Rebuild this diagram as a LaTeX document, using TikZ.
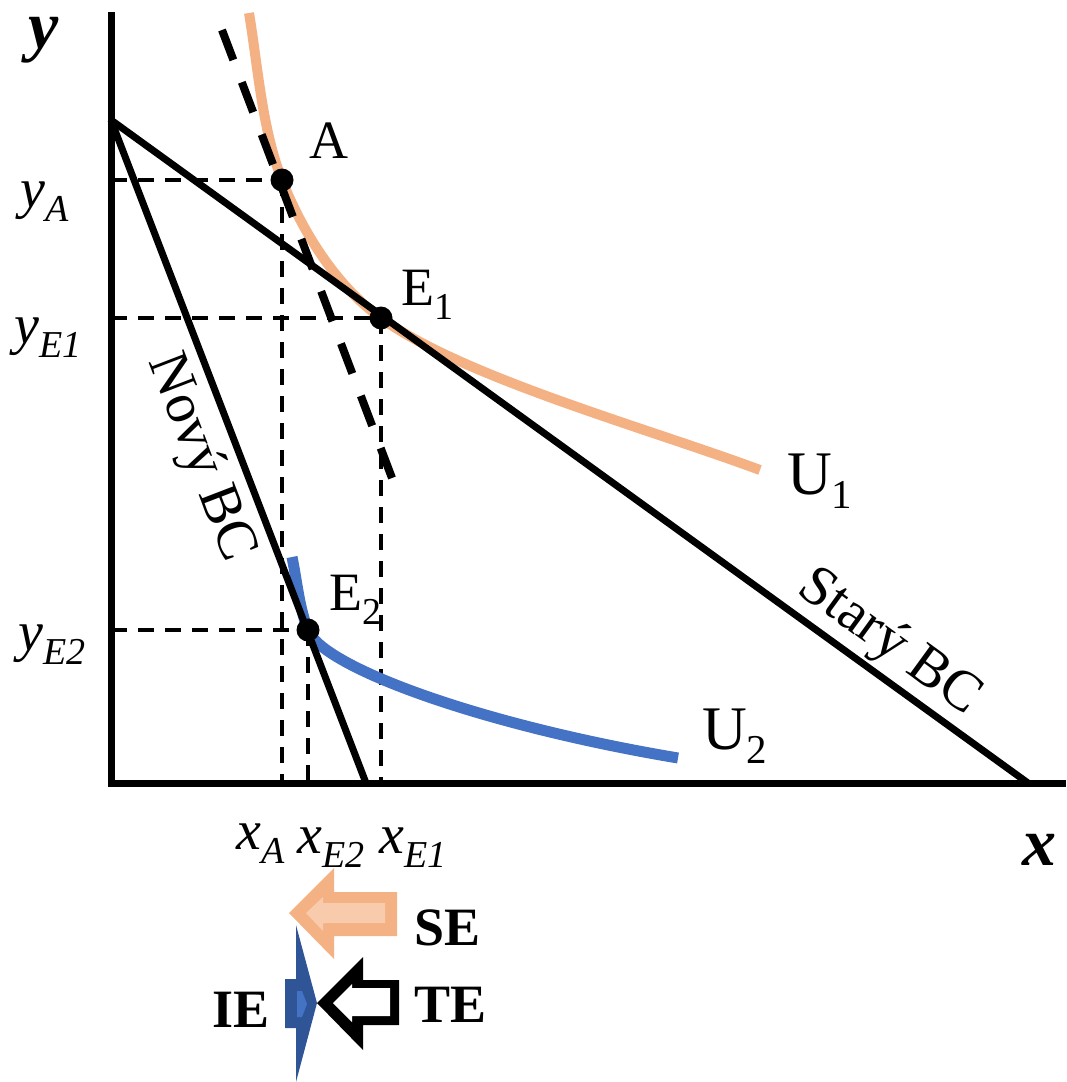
\documentclass[tikz,border=0pt]{standalone}
\usepackage{fontspec}
\setmainfont{Liberation Serif}
\definecolor{uorange}{HTML}{F4B183}
\definecolor{lorange}{HTML}{F8CBAD}
\definecolor{ublue}{HTML}{4472C4}
\definecolor{dblue}{HTML}{2F5597}
\newcommand\mysub[2][38]{\raisebox{-14pt}{\fontsize{#1}{#1}\selectfont #2}}
\begin{document}
\begin{tikzpicture}[x=1pt,y=-1pt,
  axisline/.style={line width=7pt, line join=miter},
  bcline/.style={line width=7pt},
  guide/.style={line width=3.5pt, dash pattern=on 16pt off 11pt},
  longdash/.style={line width=8pt, dash pattern=on 32pt off 23.9pt},
  lab/.style={inner sep=0pt, anchor=base west, font=\fontsize{54}{60}\selectfont},
  ulab/.style={inner sep=0pt, anchor=base west, font=\fontsize{62}{66}\selectfont},
  mlab/.style={inner sep=0pt, anchor=base west, font=\fontsize{56}{60}\selectfont\itshape},
  axlab/.style={inner sep=0pt, anchor=base west, text height=0.5em, font=\fontsize{68}{70}\selectfont\bfseries\itshape},
  bclab/.style={inner sep=0pt, font=\fontsize{57}{60}\selectfont},
  efflab/.style={inner sep=0pt, anchor=base west, font=\fontsize{54}{60}\selectfont\bfseries},
  dot/.style={fill=black}
]
\useasboundingbox (0,0) rectangle (1066,1082);

% key points
\coordinate (Ytop) at (111,12);
\coordinate (O) at (111,783);
\coordinate (Xend) at (1066,783);
\coordinate (Y0) at (111,120);
\coordinate (Xold) at (1028,783);
\coordinate (Xnew) at (366,783);
\coordinate (A) at (282,180);
\coordinate (E1) at (381,318);
\coordinate (E2) at (308,630);
\coordinate (D1) at (222,30);
\coordinate (D2) at (392,478);
\coordinate (U1s) at (249,13);
\coordinate (U1e) at (760,470);
\coordinate (U2s) at (292,557);
\coordinate (U2e) at (678,758);

% guide lines
\draw[guide] (O |- A) -- (A);
\draw[guide] (A) -- (A |- O);
\draw[guide] (O |- E1) -- (E1);
\draw[guide] (E1) -- (E1 |- O);
\draw[guide] (O |- E2) -- (E2);
\draw[guide] (E2) -- (E2 |- O);

% indifference curves
\draw[uorange, line width=10pt] (U1s) .. controls (258,67) and (262,129) .. (A)
  .. controls (302,231) and (336,286) .. (E1)
  .. controls (462,377) and (647,428) .. (U1e);
\draw[ublue, line width=11pt] (U2s) .. controls (297,581) and (299,607) .. (E2)
  .. controls (322,667) and (481,725) .. (U2e);

% axes
\draw[axisline] (Ytop) -- (O) -- (Xend);

% budget lines
\draw[bcline] (Y0) -- (Xold);
\draw[bcline] (Y0) -- (Xnew);

% compensated budget line (dashed)
\draw[longdash] (D1) -- (D2);

% points
\fill[dot] (A) circle[radius=11.5pt];
\fill[dot] (E1) circle[radius=11.5pt];
\fill[dot] (E2) circle[radius=11.5pt];

% point labels
\node[lab] (lA) at (309,158) {A};
\node[lab] (lE1) at (401,305) {E\mysub{1}};
\node[lab] (lE2) at (329,610) {E\mysub{2}};
\node[ulab] (lU1) at (787,494) {U\mysub[41]{1}};
\node[ulab] (lU2) at (702,749) {U\mysub[41]{2}};

% axis labels
\node[axlab] (ly) at (28,48) {y};
\node[axlab] (lx) at (1022,865) {x};

% value labels
\node[mlab] (lyA) at (20,207) {y\mysub{A}};
\node[mlab] (lyE1) at (14,343) {y\mysub{E1}};
\node[mlab] (lyE2) at (18,650) {y\mysub{E2}};
\node[mlab] (lxA) at (236,849) {x\mysub{A}};
\node[mlab] (lxE2) at (297,853) {x\mysub{E2}};
\node[mlab] (lxE1) at (379,853) {x\mysub{E1}};

% budget line labels
\node[bclab, rotate=-69] (nbc) at (200,458) {Nový BC};
\node[bclab, rotate=-36] (sbc) at (889,643) {Starý BC};

% effect arrows
\fill[uorange] (289,913) -- (334,868) -- (334,892) -- (397,892) -- (397,936) -- (334,936) -- (334,959) -- cycle;
\fill[lorange] (306,913) -- (323,897) -- (323,903) -- (385,903) -- (385,923) -- (323,923) -- (323,931) -- cycle;

\fill[black] (317,1003) -- (363,957) -- (363,980) -- (399,980) -- (399,1025) -- (363,1025) -- (363,1050) -- cycle;
\fill[white] (333,1003) -- (352,984) -- (352,988) -- (390,988) -- (390,1016) -- (352,1016) -- (352,1022) -- cycle;

\fill[dblue] (285,979) -- (296,979) -- (296,925) -- (317,1003) -- (296,1082) -- (296,1028) -- (285,1028) -- cycle;
\fill[ublue] (297,991) -- (302,991) -- (307,1004) -- (302,1017) -- (297,1017) -- cycle;

\node[efflab] (lSE) at (414,945) {SE};
\node[efflab] (lTE) at (414,1022) {TE};
\node[efflab] (lIE) at (212,1027) {IE};
\end{tikzpicture}
\end{document}
